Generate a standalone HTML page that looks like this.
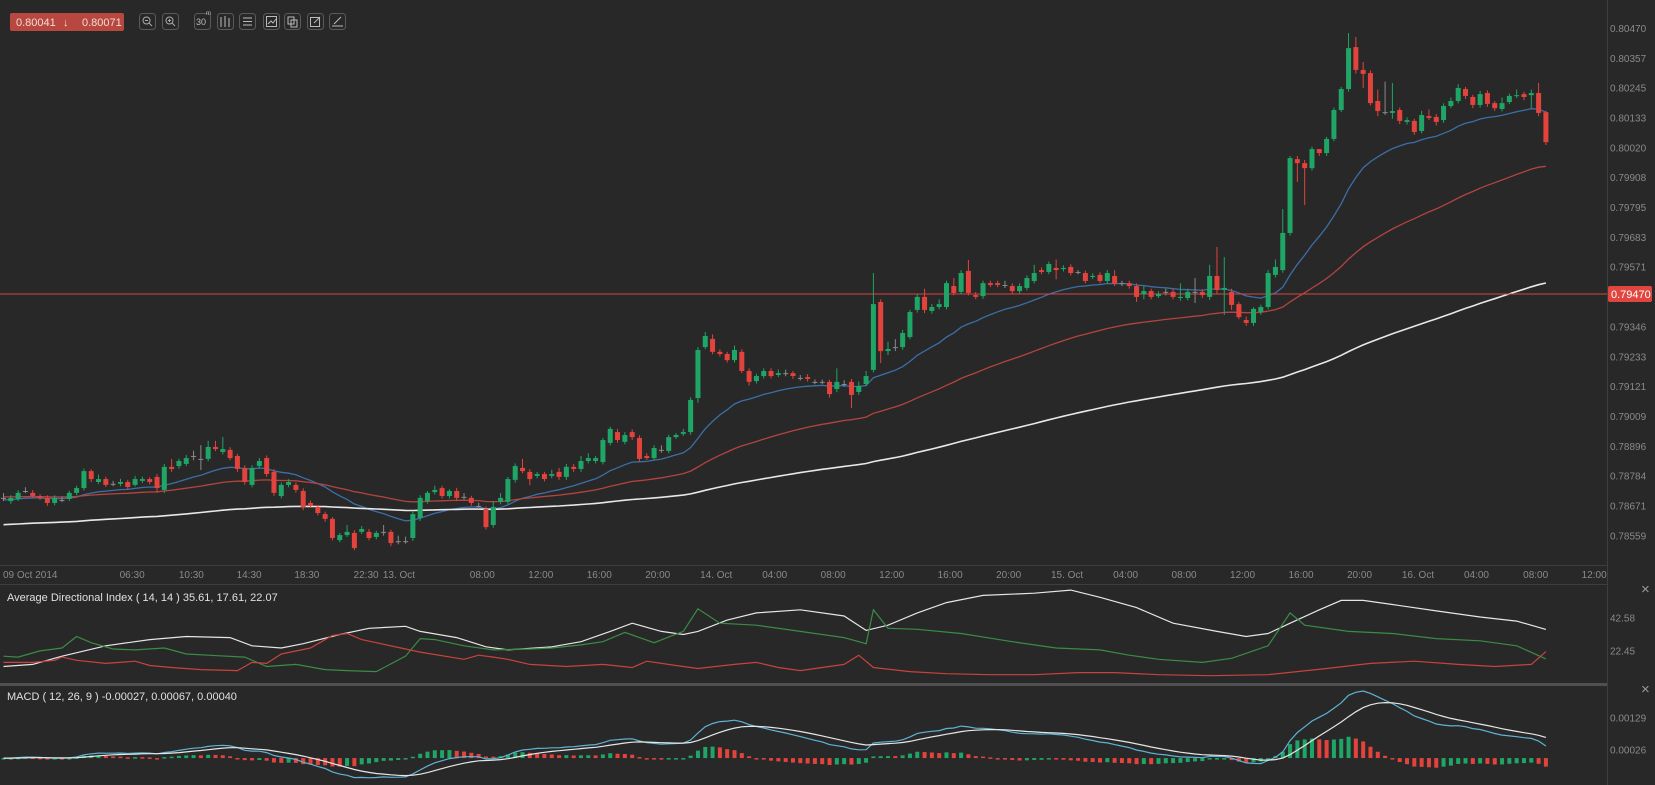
<!DOCTYPE html>
<html><head><meta charset="utf-8"><style>
body{margin:0;background:#282828;font-family:"Liberation Sans",sans-serif;}
svg{display:block}
.tb{fill:none;stroke:#5a5a5a;stroke-width:1;}
</style></head><body>
<svg id="chart" width="1655" height="785" viewBox="0 0 1655 785" xmlns="http://www.w3.org/2000/svg">
<rect width="1655" height="785" fill="#282828"/>
<g id="grid">
<line x1="1607.5" y1="0" x2="1607.5" y2="785" stroke="#3e3e3e"/>
<line x1="0" y1="565.5" x2="1607" y2="565.5" stroke="#3e3e3e"/>
<line x1="0" y1="584.5" x2="1607" y2="584.5" stroke="#3e3e3e"/>
<line x1="0" y1="684.5" x2="1607" y2="684.5" stroke="#505050" stroke-width="3"/>
</g>
<g id="main"></g>
<g id="adx"></g>
<g id="macd"></g>
<g>
<rect x="10" y="13" width="114" height="18" rx="2" fill="#b8473f"/>
<text x="16" y="26" font-size="11" fill="#f2dcda">0.80041</text>
<text x="63" y="26" font-size="11" fill="#f2dcda">↓</text>
<text x="82" y="26" font-size="11" fill="#f2dcda">0.80071</text>
<g><rect class="tb" x="139.5" y="13.5" width="16" height="16" rx="3"/><circle cx="146.5" cy="20.5" r="3.5" fill="none" stroke="#aaa"/><line x1="149" y1="23" x2="152" y2="26" stroke="#aaa"/><line x1="145" y1="20.5" x2="148" y2="20.5" stroke="#aaa"/></g>
<g><rect class="tb" x="162.5" y="13.5" width="16" height="16" rx="3"/><circle cx="169.5" cy="20.5" r="3.5" fill="none" stroke="#aaa"/><line x1="172" y1="23" x2="175" y2="26" stroke="#aaa"/><line x1="168" y1="20.5" x2="171" y2="20.5" stroke="#aaa"/><line x1="169.5" y1="19" x2="169.5" y2="22" stroke="#aaa"/></g>
<g><rect class="tb" x="194.5" y="13.5" width="16" height="16" rx="3"/><text x="196" y="25" font-size="9" fill="#bbb">30</text><text x="206" y="15" font-size="6" fill="#bbb">m</text></g>
<g><rect class="tb" x="217.5" y="13.5" width="16" height="16" rx="3"/><path d="M221 17v10M225 16v11M229 18v9" stroke="#bbb"/></g>
<g><rect class="tb" x="239.5" y="13.5" width="16" height="16" rx="3"/><path d="M243 18h9M243 21.5h9M243 25h9" stroke="#bbb"/></g>
<g><rect class="tb" x="263.5" y="13.5" width="16" height="16" rx="3"/><rect x="266.5" y="16.5" width="10" height="10" fill="none" stroke="#bbb"/><path d="M268 24l3-3 2 2 3-4" stroke="#bbb" fill="none"/></g>
<g><rect class="tb" x="284.5" y="13.5" width="16" height="16" rx="3"/><rect x="288" y="17" width="6" height="7" fill="none" stroke="#bbb"/><rect x="291" y="20" width="6" height="7" fill="none" stroke="#bbb"/></g>
<g><rect class="tb" x="307.5" y="13.5" width="16" height="16" rx="3"/><rect x="310.5" y="17.5" width="9" height="9" fill="none" stroke="#bbb"/><path d="M314 23l6-6" stroke="#bbb"/></g>
<g><rect class="tb" x="329.5" y="13.5" width="16" height="16" rx="3"/><path d="M332 26h11M334 24l7-7" stroke="#bbb"/></g>
</g>
<text x="7" y="601" font-size="11" fill="#e0e0e0">Average Directional Index ( 14, 14 ) 35.61, 17.61, 22.07</text>
<text x="7" y="700" font-size="11" fill="#e0e0e0">MACD ( 12, 26, 9 ) -0.00027, 0.00067, 0.00040</text>
<text x="1641" y="594" font-size="15" fill="#999">×</text>
<text x="1641" y="694" font-size="15" fill="#999">×</text>
</svg>
<script>
const opens=[.78702,.78690,.78698,.78728,.78721,.78709,.78702,.78683,.78694,.78698,.78721,.78739,.78803,.78762,.78773,.78755,.78755,.78762,.78751,.78766,.78773,.78781,.78732,.78819,.78822,.78830,.78860,.78849,.78849,.78894,.78875,.78883,.78860,.78815,.78751,.78822,.78852,.78800,.78709,.78751,.78751,.78728,.78683,.78668,.78641,.78623,.78543,.78562,.78570,.78574,.78574,.78555,.78574,.78574,.78539,.78539,.78551,.78626,.78690,.78724,.78739,.78709,.78728,.78706,.78702,.78672,.78660,.78600,.78687,.78687,.78770,.78815,.78800,.78785,.78792,.78785,.78800,.78781,.78819,.78811,.78841,.78841,.78837,.78909,.78950,.78913,.78950,.78928,.78860,.78852,.78883,.78879,.78931,.78943,.78950,.79078,.79270,.79301,.79252,.79244,.79221,.79252,.79180,.79142,.79161,.79180,.79165,.79172,.79172,.79154,.79157,.79139,.79139,.79139,.79112,.79131,.79139,.79101,.79131,.79184,.79440,.79255,.79270,.79270,.79308,.79410,.79459,.79406,.79421,.79421,.79500,.79478,.79557,.79466,.79462,.79511,.79511,.79504,.79500,.79481,.79493,.79519,.79560,.79553,.79568,.79564,.79572,.79553,.79549,.79534,.79542,.79519,.79538,.79511,.79511,.79500,.79470,.79481,.79462,.79478,.79478,.79455,.79455,.79478,.79478,.79459,.79538,.79485,.79478,.79432,.79372,.79361,.79402,.79421,.79542,.79560,.79700,.79978,.79963,.79944,.80016,.80001,.80054,.80163,.80242,.80400,.80314,.80302,.80197,.80155,.80152,.80163,.80118,.80122,.80084,.80140,.80137,.80125,.80178,.80197,.80242,.80212,.80182,.80227,.80189,.80167,.80193,.80216,.80223,.80219,.80227,.80155];
const closes=[.78702,.78702,.78721,.78728,.78709,.78702,.78683,.78702,.78694,.78721,.78739,.78803,.78773,.78773,.78751,.78755,.78762,.78743,.78773,.78773,.78762,.78739,.78819,.78811,.78841,.78852,.78860,.78849,.78894,.78886,.78886,.78852,.78811,.78762,.78815,.78841,.78792,.78721,.78751,.78762,.78732,.78668,.78672,.78645,.78623,.78551,.78562,.78574,.78513,.78585,.78551,.78570,.78574,.78532,.78539,.78539,.78641,.78702,.78721,.78732,.78709,.78728,.78702,.78706,.78683,.78672,.78592,.78668,.78702,.78773,.78822,.78803,.78773,.78792,.78773,.78792,.78781,.78819,.78811,.78841,.78852,.78852,.78920,.78962,.78920,.78939,.78931,.78849,.78852,.78890,.78883,.78931,.78939,.78950,.79071,.79259,.79312,.79252,.79244,.79221,.79259,.79180,.79139,.79161,.79180,.79161,.79172,.79172,.79161,.79154,.79150,.79139,.79139,.79093,.79139,.79131,.79090,.79124,.79161,.79432,.79255,.79263,.79270,.79323,.79402,.79459,.79410,.79421,.79432,.79511,.79474,.79549,.79474,.79459,.79511,.79504,.79504,.79504,.79481,.79500,.79530,.79549,.79553,.79583,.79560,.79568,.79549,.79553,.79519,.79538,.79519,.79549,.79508,.79511,.79500,.79459,.79481,.79459,.79470,.79478,.79459,.79459,.79478,.79478,.79466,.79538,.79485,.79493,.79429,.79383,.79361,.79414,.79421,.79549,.79572,.79700,.79982,.79963,.79944,.80016,.80001,.80054,.80163,.80242,.80396,.80314,.80299,.80189,.80159,.80155,.80159,.80122,.80125,.80080,.80144,.80133,.80118,.80178,.80197,.80246,.80216,.80182,.80223,.80186,.80170,.80189,.80216,.80219,.80212,.80227,.80152,.80042];
const highs=[.78720,.78712,.78731,.78742,.78731,.78716,.78712,.78712,.78708,.78729,.78748,.78812,.78810,.78790,.78782,.78766,.78774,.78770,.78785,.78782,.78780,.78792,.78830,.78849,.78850,.78864,.78880,.78901,.78917,.78917,.78931,.78893,.78868,.78825,.78825,.78852,.78862,.78810,.78760,.78773,.78760,.78738,.78692,.78676,.78650,.78630,.78570,.78600,.78580,.78596,.78585,.78578,.78600,.78582,.78560,.78556,.78650,.78712,.78728,.78748,.78748,.78735,.78740,.78720,.78710,.78684,.78670,.78690,.78720,.78781,.78832,.78849,.78810,.78800,.78800,.78808,.78815,.78830,.78830,.78860,.78870,.78860,.78928,.78970,.78962,.78950,.78960,.78938,.78870,.78900,.78900,.78940,.78946,.78962,.79081,.79270,.79327,.79318,.79262,.79252,.79276,.79262,.79190,.79170,.79190,.79190,.79185,.79185,.79180,.79165,.79168,.79148,.79148,.79147,.79190,.79145,.79150,.79140,.79180,.79549,.79450,.79290,.79300,.79335,.79410,.79470,.79490,.79432,.79450,.79520,.79530,.79560,.79598,.79478,.79520,.79520,.79520,.79520,.79510,.79510,.79540,.79580,.79570,.79592,.79600,.79578,.79582,.79560,.79558,.79548,.79552,.79560,.79560,.79520,.79520,.79510,.79500,.79490,.79480,.79490,.79490,.79510,.79490,.79530,.79488,.79580,.79647,.79609,.79490,.79440,.79385,.79420,.79430,.79560,.79600,.79790,.79990,.79990,.79975,.80025,.80015,.80062,.80172,.80250,.80453,.80438,.80344,.80312,.80240,.80270,.80265,.80172,.80135,.80130,.80160,.80165,.80148,.80188,.80210,.80260,.80250,.80220,.80235,.80237,.80197,.80210,.80225,.80240,.80232,.80240,.80265,.80160];
const lows=[.78690,.78680,.78690,.78720,.78700,.78694,.78672,.78674,.78686,.78690,.78712,.78730,.78762,.78755,.78743,.78746,.78746,.78735,.78745,.78758,.78753,.78721,.78720,.78800,.78812,.78822,.78844,.78807,.78840,.78878,.78866,.78844,.78800,.78752,.78742,.78812,.78782,.78710,.78700,.78742,.78722,.78656,.78664,.78636,.78612,.78542,.78535,.78555,.78505,.78566,.78542,.78546,.78560,.78520,.78527,.78530,.78540,.78615,.78680,.78715,.78700,.78700,.78690,.78696,.78672,.78660,.78583,.78590,.78678,.78678,.78760,.78795,.78750,.78776,.78764,.78776,.78770,.78770,.78800,.78800,.78832,.78832,.78828,.78900,.78910,.78904,.78920,.78840,.78845,.78845,.78872,.78870,.78924,.78935,.78940,.79060,.79262,.79243,.79235,.79212,.79212,.79172,.79125,.79133,.79152,.79152,.79157,.79160,.79150,.79144,.79140,.79130,.79130,.79080,.79100,.79120,.79041,.79090,.79122,.79175,.79210,.79240,.79255,.79260,.79300,.79400,.79398,.79396,.79412,.79412,.79465,.79468,.79465,.79450,.79452,.79496,.79496,.79492,.79470,.79472,.79484,.79510,.79545,.79545,.79525,.79555,.79540,.79544,.79510,.79526,.79510,.79510,.79500,.79500,.79490,.79440,.79450,.79450,.79455,.79465,.79450,.79445,.79446,.79436,.79455,.79448,.79470,.79391,.79410,.79375,.79350,.79350,.79392,.79412,.79532,.79550,.79690,.79892,.79805,.79935,.79990,.79990,.80045,.80155,.80232,.80300,.80246,.80180,.80140,.80145,.80130,.80110,.80108,.80070,.80075,.80125,.80105,.80115,.80170,.80188,.80205,.80170,.80172,.80175,.80160,.80158,.80185,.80208,.80200,.80170,.80140,.80031];
const priceTicks=["0.80470","0.80357","0.80245","0.80133","0.80020","0.79908","0.79795","0.79683","0.79571","0.79346","0.79233","0.79121","0.79009","0.78896","0.78784","0.78671","0.78559"];
const currentPrice=0.79470;
const timeLabels=["06:30","10:30","14:30","18:30","22:30","13. Oct","08:00","12:00","16:00","20:00","14. Oct","04:00","08:00","12:00","16:00","20:00","15. Oct","04:00","08:00","12:00","16:00","20:00","16. Oct","04:00","08:00","12:00"];
const timeLabelIdx=[17.6,25.7,33.6,41.5,49.6,54.1,65.5,73.5,81.5,89.5,97.5,105.5,113.5,121.5,129.5,137.5,145.5,153.5,161.5,169.5,177.5,185.5,193.5,201.5,209.6,217.6];
const maSeeds=[0.78694,0.78706,0.78600];
const maPeriods=[20,58,165];
const adxIdx=[0,4,8,14,20,25,31,34,38,41,46,50,55,57,62,66,69,75,79,83,86,90,93,95,99,103,109,115,118,121,125,129,134,141,146,150,155,160,166,170,173,176,180,183,186,190,196,202,207,211];
const adxVals=[13.0,14.3,19.3,25.6,29.4,31.3,30.6,25.6,24.3,26.9,32.5,36.3,37.5,34.4,30.6,25.0,23.1,25.0,28.1,34.4,39.4,34.4,32.5,34.4,41.3,45.7,47.6,43.8,35.0,38.2,45.7,52.0,56.4,57.7,59.6,55.2,48.9,39.4,34.4,31.3,33.1,39.4,47.6,53.3,53.3,50.8,46.9,43.2,40.7,35.6];
const pdiIdx=[0,2,5,8,10,12,15,18,22,25,28,33,36,40,44,47,51,55,57,59,63,67,72,75,79,82,85,89,93,95,98,103,109,115,118,119,121,125,131,138,144,150,154,158,164,168,173,176,178,184,190,196,202,207,211];
const pdiVals=[19.3,18.7,22.5,24.3,31.3,27.5,23.7,23.1,24.3,20.6,19.9,18.7,13.0,14.3,11.1,10.5,9.9,19.3,30.0,29.4,25.6,23.1,23.7,24.3,26.2,28.1,33.8,27.5,34.4,48.2,39.4,38.2,34.4,30.6,26.9,47.6,36.3,35.7,33.1,28.1,24.3,23.1,19.9,17.4,15.5,18.0,25.6,45.7,38.2,34.4,33.1,30.0,28.7,25.6,17.6];
const mdiIdx=[0,4,7,8,10,14,18,20,23,27,32,34,36,38,42,45,47,49,51,57,63,65,67,69,72,77,82,86,88,92,95,100,103,106,109,115,117,119,124,129,135,141,147,152,158,165,173,181,187,193,199,204,209,211];
const mdiVals=[15.5,15.5,16.8,18.7,16.8,14.9,16.2,13.6,12.4,11.1,10.5,15.5,14.9,20.6,24.3,31.9,33.1,29.4,27.5,21.8,17.4,19.9,18.7,17.4,14.3,13.0,14.3,12.4,16.2,13.6,11.8,14.3,15.5,12.4,10.5,14.3,19.9,12.4,9.9,8.6,8.0,8.0,9.3,9.3,8.0,7.4,8.0,11.8,14.9,16.2,14.3,13.0,14.3,22.1];
const adxTicks=["42.58","22.45"];
const macdTicks=["0.00129","0.00026"];

const NS="http://www.w3.org/2000/svg";
function el(tag,attrs,parent){const e=document.createElementNS(NS,tag);for(const k in attrs)e.setAttribute(k,attrs[k]);parent.appendChild(e);return e;}
const xOf=i=>3.5+7.31*i;
const yPrice=p=>294-(p-0.79470)*26550;
const yAdx=v=>651-(v-22.45)*1.639;
const yMacd=v=>750-(v-0.00026)*32/0.00103;
const main=document.getElementById('main');
const adxG=document.getElementById('adx');
const macdG=document.getElementById('macd');

priceTicks.forEach(t=>{const e=el('text',{x:1610,y:yPrice(+t)+3.5,'font-size':10,fill:'#8a8a8a'},main);e.textContent=t;

});
const d0=el('text',{x:3,y:578,'font-size':10,fill:'#8a8a8a'},main);d0.textContent="09 Oct 2014";


timeLabels.forEach((t,k)=>{const e=el('text',{x:xOf(timeLabelIdx[k]),y:578,'font-size':10,fill:'#8a8a8a','text-anchor':'middle'},main);e.textContent=t;

});

function ema(vals,period,seed){const a=2/(period+1);let e=seed;return vals.map(v=>(e=e+a*(v-e)));}
const maColors=['#3b6fa6','#b3443f','#e8e8e8'];
const maNames=['ema-blue-line','ema-red-line','ema-white-line'];
maPeriods.forEach((p,k)=>{const s=ema(closes,p,maSeeds[k]);
const pl=el('polyline',{points:s.map((v,i)=>xOf(i).toFixed(1)+','+yPrice(v).toFixed(1)).join(' '),fill:'none',stroke:maColors[k],'stroke-width':k==2?1.6:1.3},main);

});

const cl=el('line',{x1:0,x2:1607,y1:yPrice(currentPrice),y2:yPrice(currentPrice),stroke:'#d9443d','stroke-width':1},main);


const cb=el('rect',{x:1608,y:yPrice(currentPrice)-8,width:44,height:16,rx:2,fill:'#e0463f'},main);


const ct=el('text',{x:1611,y:yPrice(currentPrice)+4,'font-size':11,fill:'#fff'},main);ct.textContent=currentPrice.toFixed(5);



closes.forEach((c,i)=>{const o=opens[i];const col=c>o?'#1fa566':(c<o?'#e2433d':'#8a8a8a');
const g=el('g',{},main);


const x=xOf(i);
el('line',{x1:x,x2:x,y1:yPrice(highs[i]),y2:yPrice(lows[i]),stroke:col,'stroke-width':1},g);
const top=yPrice(Math.max(o,c)),bot=yPrice(Math.min(o,c));
el('rect',{x:x-2.5,y:top,width:5,height:Math.max(1,bot-top),fill:col},g);});

adxTicks.forEach(t=>{const e=el('text',{x:1610,y:yAdx(+t)+3.5,'font-size':10,fill:'#8a8a8a'},adxG);e.textContent=t;

});
[[adxIdx,adxVals,'#e6e6e6','adx-line'],[pdiIdx,pdiVals,'#3a8c46','plus-di-line'],[mdiIdx,mdiVals,'#c8433c','minus-di-line']].forEach(([ix,vs,col,nm])=>{
const pl=el('polyline',{points:vs.map((v,k)=>xOf(ix[k]).toFixed(1)+','+yAdx(v).toFixed(1)).join(' '),fill:'none',stroke:col,'stroke-width':1.2},adxG);

});

macdTicks.forEach(t=>{const e=el('text',{x:1610,y:yMacd(+t)+3.5,'font-size':10,fill:'#8a8a8a'},macdG);e.textContent=t;

});
const e12=ema(closes,12,closes[0]),e26=ema(closes,26,closes[0]);
const macdLine=e12.map((v,i)=>v-e26[i]);
const signal=ema(macdLine,9,0);
const hist=macdLine.map((v,i)=>v-signal[i]);
const z=yMacd(0);
hist.forEach((h,i)=>{const up=i==0||h>=hist[i-1];const y=yMacd(h);
const r=el('rect',{x:xOf(i)-2,y:Math.min(y,z),width:4,height:Math.max(1.5,Math.abs(y-z)),fill:up?'#1fa566':'#e2433d'},macdG);

});
const ml=el('polyline',{points:macdLine.map((v,i)=>xOf(i).toFixed(1)+','+yMacd(v).toFixed(1)).join(' '),fill:'none',stroke:'#5fb3d4','stroke-width':1.2},macdG);


const sl=el('polyline',{points:signal.map((v,i)=>xOf(i).toFixed(1)+','+yMacd(v).toFixed(1)).join(' '),fill:'none',stroke:'#e6e6e6','stroke-width':1.2},macdG);


</script>
</body></html>
